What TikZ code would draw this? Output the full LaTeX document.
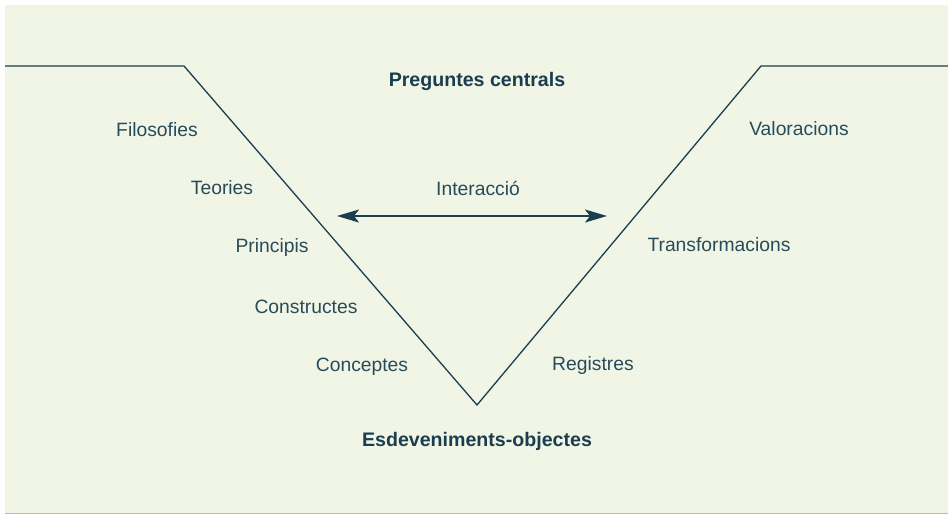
\documentclass[tikz,border=0pt]{standalone}
\usepackage{fontspec}
\setmainfont{Liberation Sans}
\usepackage{tikz}
\usetikzlibrary{arrows.meta}
\definecolor{paper}{RGB}{241,245,230}
\definecolor{ink}{RGB}{26,61,79}
\definecolor{label}{RGB}{40,75,90}
\definecolor{rule}{RGB}{170,190,190}

\begin{document}
\begin{tikzpicture}[x=1pt, y=-1pt,
    word/.style={text=label, font=\fontsize{19.3}{21}\selectfont},
    title/.style={text=ink, font=\fontsize{19.6}{21}\selectfont\bfseries}]
  % Background and frame
  \useasboundingbox (0,0) rectangle (948,515);
  \fill[paper] (5,5) rectangle (948,513);
  \draw[rule, line width=1.2pt] (5,513.5) -- (948,513.5);

  % Draw the V
  \draw[ink, line width=1.3pt] (5,66) -- (184,66) -- (477,405) -- (761,66) -- (948,66);

  % Titles
  \node[title] (top) at (477,81) {Preguntes centrals};
  \node[title] (bottom) at (477,441) {Esdeveniments-objectes};

  % Left side: concepts
  \node[word] (filo) at (157,130) {Filosofies};
  \node[word] (teo) at (222,188) {Teories};
  \node[word] (princ) at (272,248) {Principis};
  \node[word] (constr) at (306,307) {Constructes};
  \node[word] (conc) at (362,367) {Conceptes};

  % Right side: method
  \node[word] (val) at (799,129) {Valoracions};
  \node[word] (trans) at (719,245) {Transformacions};
  \node[word] (reg) at (593,366) {Registres};

  % Interaction arrow
  \node[word] (inter) at (478,188) {Interacció};
  \coordinate (L) at (337,216);
  \coordinate (R) at (607,216);
  \draw[ink, line width=1.5pt, {Stealth[length=22pt,width=13pt,inset=5pt]}-{Stealth[length=22pt,width=13pt,inset=5pt]}] (L) -- (R);
\end{tikzpicture}
\end{document}
